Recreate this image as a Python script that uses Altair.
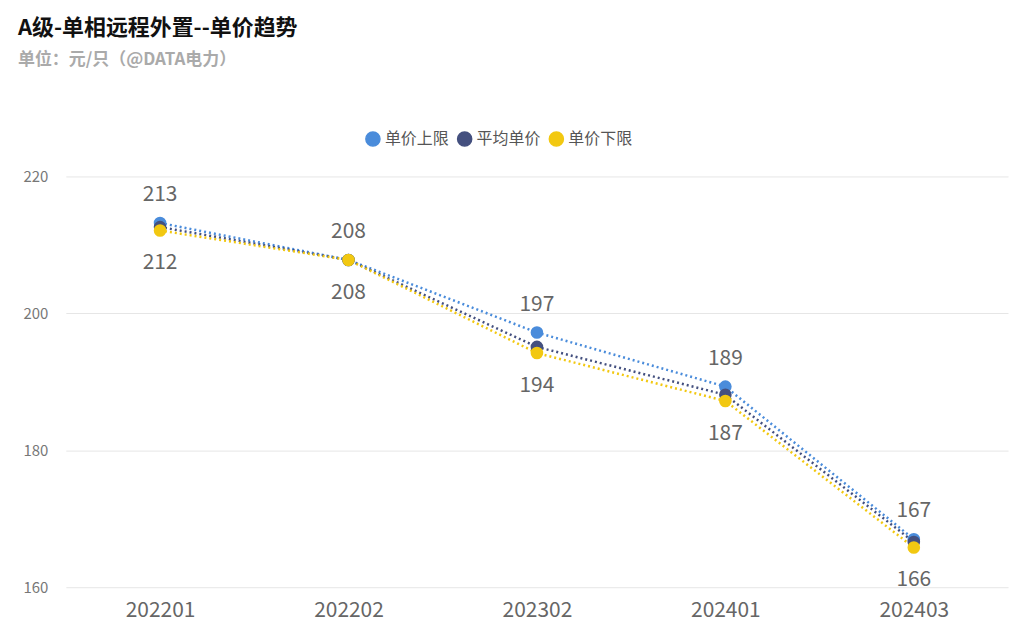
import altair as alt
import pandas as pd

months = ["202201", "202202", "202302", "202401", "202403"]
upper = [213.2, 207.8, 197.2, 189.3, 167.0]
avg = [212.6, 207.8, 195.1, 188.1, 166.6]
lower = [212.1, 207.8, 194.2, 187.2, 165.8]
upper_lbl = [213, 208, 197, 189, 167]
lower_lbl = [212, 208, 194, 187, 166]

series = ["单价上限", "平均单价", "单价下限"]
colors = ["#4A8CDB", "#44507F", "#F2C811"]

rows = []
for name, vals in zip(series, [upper, avg, lower]):
    for m, v in zip(months, vals):
        rows.append({"月份": m, "系列": name, "单价": v})
df = pd.DataFrame(rows)

lbl = pd.DataFrame({"月份": months, "up": upper, "lo": lower,
                    "ut": upper_lbl, "lt": lower_lbl})

x = alt.X("月份:N", title=None, sort=months,
          axis=alt.Axis(labelAngle=0, labelFontSize=21, labelColor="#666666",
                        domain=False, ticks=False, labelPadding=12))
y = alt.Y("单价:Q", title=None, scale=alt.Scale(domain=[160, 220]),
          axis=alt.Axis(values=[160, 180, 200, 220], labelFontSize=15,
                        labelColor="#777777", domain=False, ticks=False,
                        gridColor="#E6E6E6", labelPadding=18))
color = alt.Color("系列:N", sort=series,
                  scale=alt.Scale(domain=series, range=colors),
                  legend=alt.Legend(title=None, orient="none", direction="horizontal",
                                    legendX=300, legendY=-46,
                                    labelFontSize=16, labelColor="#555555",
                                    symbolType="circle", symbolSize=200,
                                    columnPadding=4, symbolOpacity=1))

base = alt.Chart(df)
lines = base.mark_line(strokeDash=[2, 3], strokeWidth=2.5).encode(
    x=x, y=y, color=color, order=alt.Order("系列:N"))
points = base.mark_circle(size=160, opacity=1).encode(x=x, y=y, color=color)

up_text = alt.Chart(lbl).mark_text(dy=-28, fontSize=21, color="#666666").encode(
    x=alt.X("月份:N", sort=months), y=alt.Y("up:Q"), text="ut:Q")
lo_text = alt.Chart(lbl).mark_text(dy=33, fontSize=21, color="#666666").encode(
    x=alt.X("月份:N", sort=months), y=alt.Y("lo:Q"), text="lt:Q")

chart = alt.layer(lines, points, up_text, lo_text).properties(
    width=945, height=412,
    padding={"left": 10, "top": 8, "right": 10, "bottom": 10},
    title=alt.TitleParams("A级-单相远程外置--单价趋势",
                          subtitle="单位：元/只（@DATA电力）",
                          anchor="start", frame="group", fontSize=22,
                          fontWeight="bold", color="#111111",
                          subtitleFontSize=17, subtitleColor="#AAAAAA",
                          subtitleFontWeight="bold", subtitlePadding=12,
                          offset=62, dx=-48)
).configure(font="Noto Sans CJK SC").configure_view(stroke=None, strokeWidth=0)

chart.save("out.html", embed_options={"renderer": "svg", "actions": False})
